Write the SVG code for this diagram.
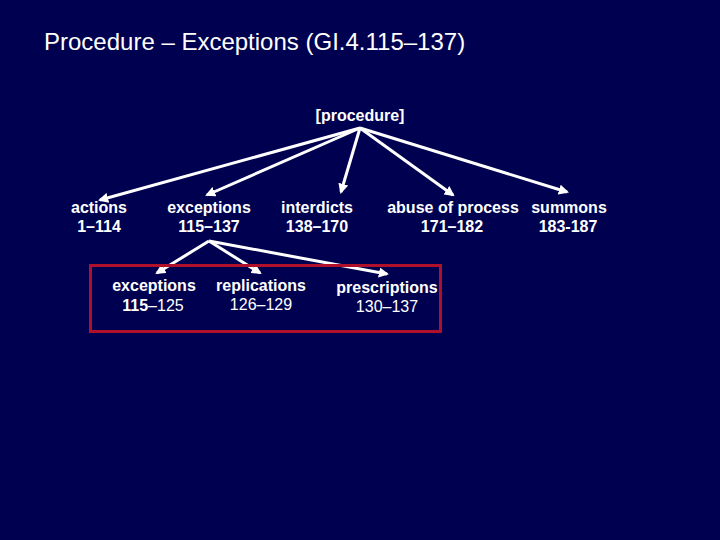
<svg xmlns="http://www.w3.org/2000/svg" width="720" height="540" viewBox="0 0 720 540">
<style>
text{font-family:"Liberation Sans",Arial,sans-serif;fill:#fff;text-anchor:middle}
.b{font-weight:bold;font-size:16px}
.r{font-weight:normal;font-size:16px}
.title{font-size:24px;text-anchor:start}
.c{stroke:#fff;stroke-width:3;fill:none}
</style>
<defs>
<marker id="ah" viewBox="0 0 10 10" refX="8" refY="5" markerWidth="3.4" markerHeight="3.4" orient="auto" markerUnits="strokeWidth">
<path d="M0,0 L10,5 L0,10 z" fill="#fff"/>
</marker>
</defs>
<rect width="720" height="540" fill="#000050"/>
<text class="title" x="44" y="50">Procedure – Exceptions (GI.4.115–137)</text>
<g id="connectors">
<line class="c" x1="360" y1="128" x2="100" y2="200" marker-end="url(#ah)"/>
<line class="c" x1="360" y1="128" x2="207" y2="195" marker-end="url(#ah)"/>
<line class="c" x1="360" y1="128" x2="341" y2="192" marker-end="url(#ah)"/>
<line class="c" x1="360" y1="128" x2="453" y2="195" marker-end="url(#ah)"/>
<line class="c" x1="360" y1="128" x2="567" y2="192" marker-end="url(#ah)"/>
<line class="c" x1="209" y1="241" x2="157" y2="273" marker-end="url(#ah)"/>
<line class="c" x1="209" y1="241" x2="260" y2="273" marker-end="url(#ah)"/>
<line class="c" x1="209" y1="241" x2="387" y2="274" marker-end="url(#ah)"/>
</g>
<g id="procedure"><text class="b" x="360" y="121">[procedure]</text></g>
<g id="actions"><text class="b" x="99" y="213">actions</text><text class="b" x="99" y="232">1–114</text></g>
<g id="exceptions"><text class="b" x="209" y="213">exceptions</text><text class="b" x="209" y="232">115–137</text></g>
<g id="interdicts"><text class="b" x="317" y="213">interdicts</text><text class="b" x="317" y="232">138–170</text></g>
<g id="abuse"><text class="b" x="453" y="213">abuse of process</text><text class="b" x="452" y="232">171–182</text></g>
<g id="summons"><text class="b" x="569" y="213">summons</text><text class="b" x="568" y="232">183-187</text></g>
<g id="subgroup">
<rect x="90.5" y="265.5" width="350" height="66" fill="none" stroke="#b0102a" stroke-width="3"/>
</g>
<g id="exceptions-sub"><text class="b" x="154" y="291">exceptions</text><text class="r" x="153" y="311"><tspan font-weight="bold">115</tspan>–125</text></g>
<g id="replications"><text class="b" x="261" y="291">replications</text><text class="r" x="261" y="310">126–129</text></g>
<g id="prescriptions"><text class="b" x="387" y="293">prescriptions</text><text class="r" x="387" y="312">130–137</text></g>
</svg>
